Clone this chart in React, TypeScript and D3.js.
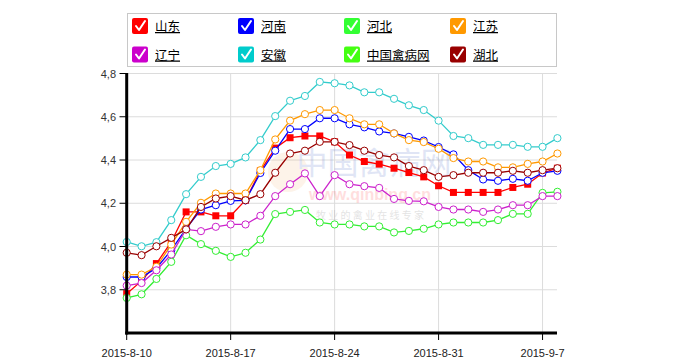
import React from "react";
import * as d3 from "d3";

const startDate = new Date(2015, 7, 10);
const dayCount = 30;
const tickDates = [new Date(2015, 7, 10), new Date(2015, 7, 17), new Date(2015, 7, 24), new Date(2015, 7, 31), new Date(2015, 8, 7)];
const yTicks = [3.8, 4.0, 4.2, 4.4, 4.6, 4.8];
const yGrid = [3.8, 4.0, 4.2, 4.4, 4.6, 4.8];

const shandong = [3.782, 3.841, 3.921, 4.021, 4.16, 4.16, 4.142, 4.142, 4.214, 4.35, 4.455, 4.503, 4.511, 4.511, 4.484, 4.423, 4.393, 4.381, 4.362, 4.342, 4.322, 4.281, 4.25, 4.25, 4.25, 4.25, 4.273, 4.288, 4.34, 4.362];
const henan = [3.859, 3.859, 3.9, 3.983, 4.083, 4.171, 4.191, 4.211, 4.213, 4.34, 4.443, 4.543, 4.543, 4.593, 4.593, 4.565, 4.551, 4.532, 4.523, 4.507, 4.49, 4.46, 4.426, 4.353, 4.31, 4.304, 4.313, 4.304, 4.341, 4.35];
const hebei = [3.762, 3.779, 3.85, 3.929, 4.052, 4.011, 3.98, 3.952, 3.971, 4.032, 4.15, 4.16, 4.169, 4.111, 4.102, 4.102, 4.093, 4.093, 4.065, 4.072, 4.082, 4.102, 4.111, 4.111, 4.111, 4.122, 4.151, 4.151, 4.248, 4.253];
const jiangsu = [3.87, 3.87, 3.906, 4.009, 4.114, 4.202, 4.245, 4.245, 4.245, 4.353, 4.495, 4.582, 4.612, 4.631, 4.631, 4.593, 4.565, 4.565, 4.523, 4.492, 4.483, 4.452, 4.409, 4.393, 4.393, 4.366, 4.366, 4.382, 4.393, 4.43];
const liaoning = [3.819, 3.831, 3.89, 3.963, 4.079, 4.071, 4.091, 4.102, 4.102, 4.142, 4.233, 4.288, 4.338, 4.233, 4.33, 4.288, 4.279, 4.271, 4.22, 4.211, 4.209, 4.183, 4.171, 4.171, 4.16, 4.171, 4.191, 4.191, 4.233, 4.233];
const anhui = [4.021, 4.001, 4.02, 4.122, 4.242, 4.322, 4.372, 4.382, 4.412, 4.492, 4.603, 4.674, 4.696, 4.761, 4.755, 4.745, 4.713, 4.713, 4.683, 4.653, 4.631, 4.582, 4.511, 4.501, 4.47, 4.47, 4.47, 4.461, 4.461, 4.501];
const qinbingwang: number[] = [];
const hubei = [3.971, 3.96, 4.001, 4.04, 4.079, 4.183, 4.222, 4.233, 4.214, 4.242, 4.341, 4.43, 4.443, 4.484, 4.484, 4.469, 4.443, 4.423, 4.412, 4.372, 4.353, 4.322, 4.33, 4.341, 4.341, 4.341, 4.35, 4.341, 4.353, 4.362];

const seriesNames = ["山东", "河南", "河北", "江苏", "辽宁", "安徽", "中国禽病网", "湖北"];
const seriesValues = [shandong, henan, hebei, jiangsu, liaoning, anhui, qinbingwang, hubei];
const seriesColors = ["#ff0000", "#0000ff", "#33ee33", "#ff9900", "#cc22cc", "#33cccc", "#44ff11", "#990000"];
const legendColors = ["#ff0000", "#0000ff", "#33ff33", "#ff9900", "#cc00cc", "#00cccc", "#44ff11", "#990000"];

export default function App() {
  const x = d3.scaleTime().domain([startDate, d3.timeDay.offset(startDate, dayCount - 1)]).range([126.7, 557.4]);
  const y = d3.scaleLinear().domain([3.6, 4.8]).range([333, 73.5]);
  const dates = d3.range(dayCount).map((i) => d3.timeDay.offset(startDate, i));
  const fmt = d3.timeFormat("%Y-%-m-%-d");
  const line = d3.line<number>().x((_, i) => x(dates[i])).y((v) => y(v));
  const font = "'Liberation Sans', Arial, sans-serif";

  return (
    <svg width={683} height={359} style={{ position: "absolute", left: 0, top: 0, background: "#fff" }}>
      <rect x={0} y={0} width={683} height={359} fill="#fff" />
      {/* grid */}
      {yGrid.map((v) => (
        <line key={"gy" + v} x1={126.7} x2={557} y1={y(v)} y2={y(v)} stroke="#dcdcdc" strokeWidth={1} />
      ))}
      {tickDates.slice(1).map((d, i) => (
        <line key={"gx" + i} x1={x(d)} x2={x(d)} y1={73.5} y2={333} stroke="#dcdcdc" strokeWidth={1} />
      ))}
      {/* watermark */}
      <g opacity={0.2}>
        <circle cx={288} cy={172} r={20} fill="#f0a050" opacity={0.6} />
        <text x={374} y={174} textAnchor="middle" fontSize={31} fill="#6a7fd0" fontFamily="'Noto Sans CJK SC'">中国禽病网</text>
        <text x={370} y={200} textAnchor="middle" fontSize={16} fontWeight="bold" fill="#ff6060" fontFamily={font}>www.qinbing.cn</text>
        <text x={370} y={219} textAnchor="middle" fontSize={10} fill="#777" fontFamily="'Noto Sans CJK SC'">牧 业 的 禽 业 在 线 专 家</text>
      </g>
      {/* series */}
      {seriesValues.map((vals, s) =>
        vals.length ? (
          <g key={"s" + s}>
            <path d={line(vals) || ""} fill="none" stroke={seriesColors[s]} strokeWidth={1.3} />
            {vals.map((v, i) =>
              s === 0 ? (
                <rect key={i} x={x(dates[i]) - 3.5} y={y(v) - 3.5} width={7} height={7} fill={seriesColors[s]} />
              ) : (
                <circle key={i} cx={x(dates[i])} cy={y(v)} r={3.6} fill="#fff" stroke={seriesColors[s]} strokeWidth={1} />
              )
            )}
          </g>
        ) : null
      )}
      {/* axes */}
      <line x1={126.7} x2={126.7} y1={73} y2={334.5} stroke="#000" strokeWidth={3} />
      <line x1={125.2} x2={557} y1={333} y2={333} stroke="#000" strokeWidth={3} />
      {yTicks.map((v) => (
        <g key={"yt" + v}>
          <line x1={119.5} x2={126} y1={y(v)} y2={y(v)} stroke="#000" strokeWidth={1} />
          <text x={116} y={y(v) + 4} textAnchor="end" fontSize={11} fill="#333" fontFamily={font}>
            {d3.format(".1f")(v).replace(".", ",")}
          </text>
        </g>
      ))}
      {tickDates.map((d, i) => (
        <g key={"xt" + i}>
          <line x1={x(d)} x2={x(d)} y1={333} y2={340} stroke="#000" strokeWidth={1} />
          <text x={x(d)} y={357} textAnchor="middle" fontSize={11} fill="#222" fontFamily={font}>
            {fmt(d)}
          </text>
        </g>
      ))}
      {/* legend */}
      <rect x={127.5} y={13.5} width={429} height={53} fill="#fff" stroke="#c8c8c8" strokeWidth={1} />
      {seriesNames.map((name, i) => {
        const cx = 132 + (i % 4) * 106;
        const cy = 18 + Math.floor(i / 4) * 28.5;
        return (
          <g key={"lg" + i}>
            <rect x={cx} y={cy} width={16} height={16} rx={2} fill={legendColors[i]} />
            <path d={`M${cx + 4},${cy + 8} L${cx + 7},${cy + 12} L${cx + 13},${cy + 3}`} fill="none" stroke="#fff" strokeWidth={2} strokeLinecap="round" strokeLinejoin="round" />
            <text x={cx + 23} y={cy + 13} fontSize={12.5} fill="#000" textDecoration="underline" fontFamily="'Noto Sans CJK SC'">
              {name}
            </text>
          </g>
        );
      })}
    </svg>
  );
}
